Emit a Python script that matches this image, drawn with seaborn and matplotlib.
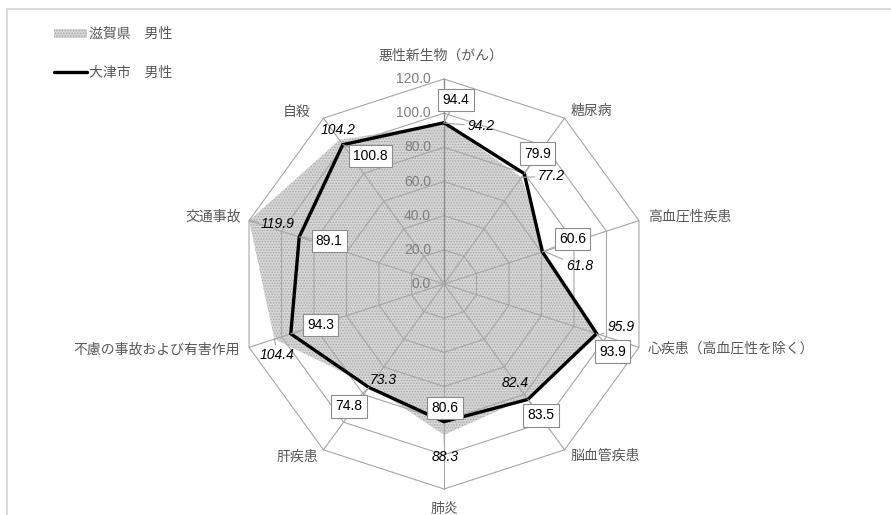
import numpy as np
import pandas as pd
import matplotlib
matplotlib.use("Agg")
import matplotlib.pyplot as plt
from matplotlib.patches import Patch
from matplotlib.lines import Line2D
import seaborn as sns

# Standardised mortality ratios by cause of death (male)
categories = ["悪性新生物（がん）", "糖尿病", "高血圧性疾患", "心疾患（高血圧性を除く）",
              "脳血管疾患", "肺炎", "肝疾患", "不慮の事故および有害作用", "交通事故", "自殺"]
shiga_male = [94.2, 77.2, 61.8, 95.9, 82.4, 88.3, 73.3, 104.4, 119.9, 104.2]
otsu_male = [94.4, 79.9, 60.6, 93.9, 83.5, 80.6, 74.8, 94.3, 89.1, 100.8]
series_names = ["滋賀県　男性", "大津市　男性"]
ring_values = [0, 20, 40, 60, 80, 100, 120]
ring_labels = ["0.0", "20.0", "40.0", "60.0", "80.0", "100.0", "120.0"]

sns.set_theme(style="white")
plt.rcParams["font.family"] = ["Noto Sans CJK JP", "DejaVu Sans"]
plt.rcParams["hatch.linewidth"] = 0.7

W, H = 891, 515
cx, cy = 444, 284          # centre of the web, pixels from top-left
R_PX = 205                 # radius of the outer ring in pixels
RMAX = ring_values[-1]
k = R_PX / RMAX

fig = plt.figure(figsize=(W / 100, H / 100), dpi=100)
ax = fig.add_axes([0, 0, 1, 1])
ax.set_xlim(-cx / k, (W - cx) / k)
ax.set_ylim(-(H - cy) / k, cy / k)
ax.axis("off")

n = len(categories)
theta = np.arange(n) * 2 * np.pi / n


def to_xy(values):
    v = np.asarray(values, dtype=float)
    return v * np.sin(theta), v * np.cos(theta)


# polygonal grid rings and spokes
grid_color = "#a6a6a6"
for rv in ring_values[1:]:
    gx, gy = to_xy([rv] * n)
    ax.plot(np.append(gx, gx[0]), np.append(gy, gy[0]), color=grid_color, lw=0.8, zorder=2)
for i in range(n):
    ex, ey = RMAX * np.sin(theta[i]), RMAX * np.cos(theta[i])
    ax.plot([0, ex], [0, ey], color="#8c8c8c" if i == 0 else grid_color,
            lw=1.0 if i == 0 else 0.8, zorder=2)

# radial tick labels along the vertical axis
for rv, lab in zip(ring_values, ring_labels):
    ax.annotate(lab, xy=(0, rv), xytext=(-13, 0), textcoords="offset pixels",
                ha="right", va="center", fontsize=10, color="#7f7f7f",
                family="Liberation Sans", zorder=3)

# Shiga: hatched area
fill_face, fill_hatch = "#d6d6d6", "#a8a8a8"
sx, sy = to_xy(shiga_male)
ax.fill(sx, sy, facecolor=fill_face, edgecolor=fill_hatch, hatch="......",
        lw=0, zorder=1)

# Otsu: thick black line
ox, oy = to_xy(otsu_male)
line_df = pd.DataFrame({"x": np.append(ox, ox[0]), "y": np.append(oy, oy[0])})
sns.lineplot(data=line_df, x="x", y="y", sort=False, estimator=None, ax=ax,
             color="black", lw=2.4, solid_joinstyle="miter", zorder=4,
             legend=False)

# category labels around the outer ring
cat_offsets = [(-3, 23), (6, 7), (9, 4), (9, -1), (6, -6),
               (0, -20), (-5, -7), (-9, -2), (-8, 4), (-13, 6)]
cat_ha = ["center", "left", "left", "left", "left",
          "center", "right", "right", "right", "right"]
ex, ey = to_xy([RMAX] * n)
for i, cat in enumerate(categories):
    ax.annotate(cat, xy=(ex[i], ey[i]), xytext=cat_offsets[i], textcoords="offset pixels",
                ha=cat_ha[i], va="center", fontsize=10, color="#595959", zorder=5)

leader = dict(arrowstyle="-", color="#a6a6a6", lw=0.8, shrinkA=0, shrinkB=0)

# Otsu values in boxes
otsu_offsets = [(12, 23), (13, 20), (30, 13), (16, -18), (13, -16),
                (1, 14), (-20, -19), (30, 9), (30, -4), (28, -11)]
for i, v in enumerate(otsu_male):
    dx, dy = otsu_offsets[i]
    far = abs(dx) > 19 or abs(dy) > 14
    ax.annotate(f"{v:.1f}", xy=(ox[i], oy[i]), xytext=(dx, dy), textcoords="offset pixels",
                ha="center", va="center", fontsize=10, family="Liberation Sans",
                color="black", zorder=7,
                bbox=dict(boxstyle="square,pad=0.3", fc="white", ec="#8c8c8c", lw=0.8),
                arrowprops=leader if far else None)

# Shiga values in italics
shiga_offsets = [(37, -3), (30, 1), (35, -15), (21, 8), (-12, 15),
                 (1, -22), (13, 5), (3, -16), (28, -3), (-1, 10)]
for i, v in enumerate(shiga_male):
    dx, dy = shiga_offsets[i]
    far = abs(dx) > 18 or abs(dy) > 12
    ax.annotate(f"{v:.1f}", xy=(sx[i], sy[i]), xytext=(dx, dy), textcoords="offset pixels",
                ha="center", va="center", fontsize=10, family="Liberation Sans",
                style="italic", color="black", zorder=6,
                arrowprops=leader if far else None)

# legend
handles = [Patch(facecolor=fill_face, edgecolor=fill_hatch, hatch="......", lw=0),
           Line2D([0], [0], color="black", lw=2.4)]
leg = ax.legend(handles, series_names, loc="upper left",
                bbox_to_anchor=(54 / W, 1 - 27 / H), bbox_transform=fig.transFigure,
                frameon=False, fontsize=10, handlelength=2.4, handleheight=0.6,
                handletextpad=0.15, labelspacing=1.8, borderpad=0, borderaxespad=0)
for t in leg.get_texts():
    t.set_color("#595959")

# chart area border (top and left edges)
fig.add_artist(Line2D([7 / W, 7 / W], [0, 1 - 9 / H], transform=fig.transFigure,
                      color="#d9d9d9", lw=1.3))
fig.add_artist(Line2D([7 / W, 1], [1 - 9 / H, 1 - 9 / H], transform=fig.transFigure,
                      color="#d9d9d9", lw=1.3))

fig.savefig("out.png", dpi=100)
